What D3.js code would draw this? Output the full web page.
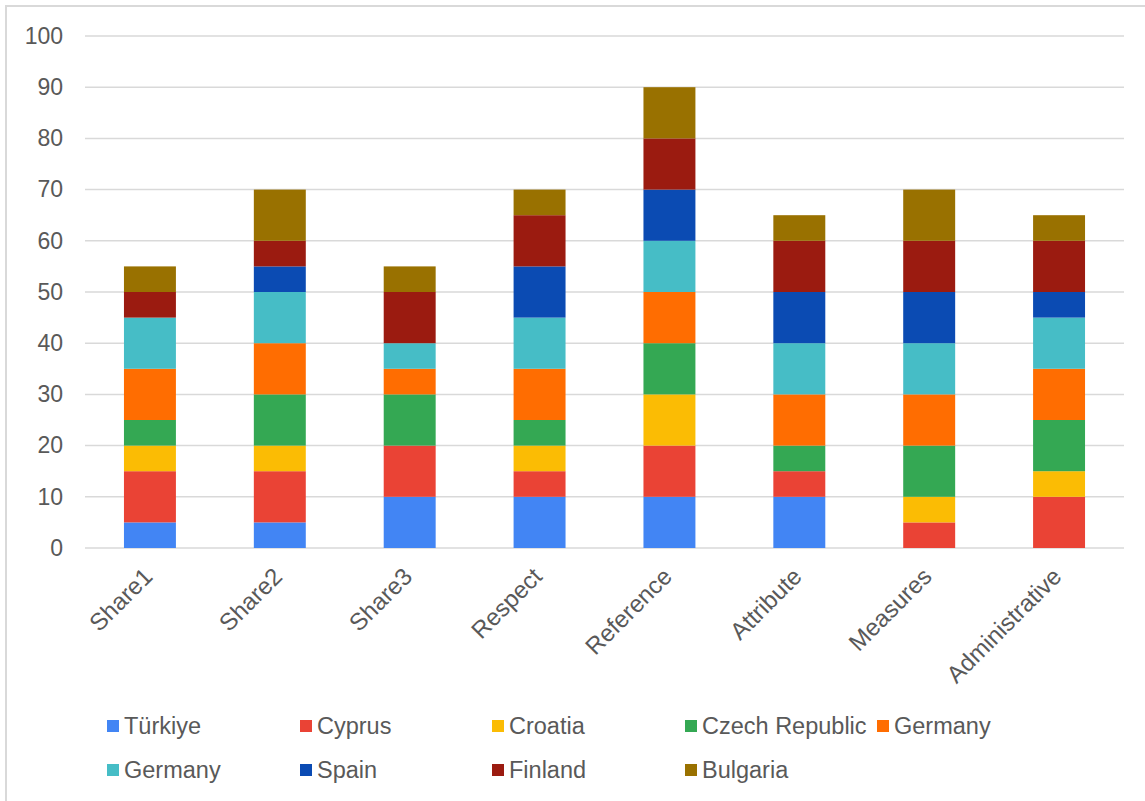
<!DOCTYPE html>
<html><head><meta charset="utf-8">
<script src="https://cdn.jsdelivr.net/npm/d3@7"></script>
<style>
html,body{margin:0;padding:0;background:#fff;}
svg{display:block;font-family:"Liberation Sans",Arial,sans-serif;}
</style></head>
<body>
<svg id="chart" width="1145" height="801"></svg>
<script>
const categories = ["Share1","Share2","Share3","Respect","Reference","Attribute","Measures","Administrative"];
const seriesNames = ["Türkiye","Cyprus","Croatia","Czech Republic","Germany","Germany","Spain","Finland","Bulgaria"];
const seriesColors = ["#4285F4","#EA4335","#FBBC04","#34A853","#FF6D01","#46BDC6","#0B4BB3","#9B1B10","#997100"];
const turkiye   = [5, 5, 10, 10, 10, 10, 0, 0];
const cyprus    = [10,10,10, 5, 10, 5, 5, 10];
const croatia   = [5, 5, 0, 5, 10, 0, 5, 5];
const czech     = [5, 10,10, 5, 10, 5, 10,10];
const germanyO  = [10,10, 5, 10,10,10,10,10];
const germanyT  = [10,10, 5, 10,10,10,10,10];
const spain     = [0, 5, 0, 10,10,10,10, 5];
const finland   = [5, 5, 10,10,10,10,10,10];
const bulgaria  = [5, 10, 5, 5, 10, 5, 10, 5];
const seriesValues = [turkiye,cyprus,croatia,czech,germanyO,germanyT,spain,finland,bulgaria];
const yTicks = [0,10,20,30,40,50,60,70,80,90,100];

const svg = d3.select("#chart");
// outer border
svg.append("rect").attr("x",6).attr("y",6).attr("width",1145).attr("height",801)
  .attr("fill","none").attr("stroke","#d9d9d9").attr("stroke-width",2);

const pLeft=85, pRight=1124, pTop=36, pBottom=548;
const x = d3.scaleBand().domain(categories).range([pLeft,pRight]).paddingInner(0.6).paddingOuter(0.3);
const y = d3.scaleLinear().domain([0,100]).range([pBottom,pTop]);

// gridlines
svg.append("g").selectAll("line").data(yTicks).join("line")
  .attr("x1",pLeft).attr("x2",pRight)
  .attr("y1",d=>y(d)).attr("y2",d=>y(d))
  .attr("stroke","#d9d9d9").attr("stroke-width",1.5);

// y axis labels
const yAxis = d3.axisLeft(y).tickValues(yTicks).tickSize(0).tickPadding(22);
const gy = svg.append("g").attr("transform",`translate(${pLeft},0)`).call(yAxis);
gy.select(".domain").remove();
gy.selectAll("text").attr("font-size",23).attr("fill","#595959").attr("font-family","Liberation Sans, Arial, sans-serif");

// stacked data
const table = categories.map((c,i)=>{const o={cat:c}; seriesValues.forEach((s,j)=>o["s"+j]=s[i]); return o;});
const stack = d3.stack().keys(seriesNames.map((_,j)=>"s"+j));
const stacked = stack(table);

svg.append("g").selectAll("g").data(stacked).join("g")
  .attr("fill",(d,i)=>seriesColors[i])
  .selectAll("rect").data(d=>d).join("rect")
  .attr("x",d=>x(d.data.cat))
  .attr("width",x.bandwidth())
  .attr("y",d=>y(d[1]))
  .attr("height",d=>y(d[0])-y(d[1]));

// x axis labels
const xAxis = d3.axisBottom(x).tickSize(0).tickPadding(0);
const gx = svg.append("g").attr("transform",`translate(0,${pBottom})`).call(xAxis);
gx.select(".domain").remove();
gx.selectAll("text")
  .attr("font-size",24).attr("fill","#595959")
  .attr("font-family","Liberation Sans, Arial, sans-serif")
  .attr("text-anchor","end")
  .attr("dy","0")
  .attr("transform","translate(4,30) rotate(-45)");

// legend
const legendPos = [[107,726],[300,726],[492,726],[685,726],[877,726],[107,770],[300,770],[492,770],[685,770]];
const lg = svg.append("g").selectAll("g").data(seriesNames).join("g")
  .attr("transform",(d,i)=>`translate(${legendPos[i][0]},${legendPos[i][1]})`);
lg.append("rect").attr("x",0).attr("y",-6).attr("width",12).attr("height",12)
  .attr("fill",(d,i)=>seriesColors[i]);
lg.append("text").attr("x",17).attr("y",0).attr("dy","0.35em")
  .attr("font-size",23.5).attr("fill","#595959").text(d=>d);
</script>
</body></html>
